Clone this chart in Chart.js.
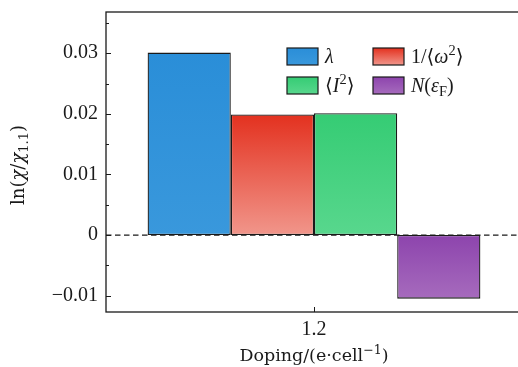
<!DOCTYPE html>
<html>
<head>
<meta charset="utf-8">
<script src="https://cdn.jsdelivr.net/npm/chart.js@4.4.1/dist/chart.umd.min.js"></script>
<style>
  html, body { margin: 0; padding: 0; background: #fff; overflow: hidden; }
  #wrap { width: 518px; height: 367px; overflow: hidden; }
</style>
</head>
<body>
<div id="wrap"><canvas id="chart" width="530" height="367"></canvas></div>
<script>
// values at doping 1.2 e/cell
const categories = ["1.2"];
const lambdaVals = [0.0301];
const invOmegaVals = [0.0199];
const iSquareVals = [0.0201];
const dosVals = [-0.0105];
const yTicks = [-0.01, 0, 0.01, 0.02, 0.03];

const SERIF = "'Liberation Serif', 'DejaVu Serif', serif";
const TITLE_SERIF = "'DejaVu Serif', 'Liberation Serif', serif";
const INK = "#1a1a1a";

// top / bottom colours of each bar's vertical gradient
const fills = [
  ["#2a8ed8", "#3998dc"],
  ["#e3311f", "#f1968b"],
  ["#35cc74", "#58d78d"],
  ["#8d44ad", "#a66bbd"]
];

// legend labels as rich-text runs (i = italic, sup/sub = raised/lowered)
const legendLabels = [
  [{ t: "λ", i: true }],
  [{ t: "1/⟨" }, { t: "ω", i: true }, { t: "2", sup: true }, { t: "⟩" }],
  [{ t: "⟨" }, { t: "I", i: true }, { t: "2", sup: true }, { t: "⟩" }],
  [{ t: "N", i: true }, { t: "(" }, { t: "ε", i: true }, { t: "F", sub: true }, { t: ")" }]
];
const yTitle = [{ t: "ln(" }, { t: "χ", i: true }, { t: "/" }, { t: "χ", i: true }, { t: "1.1", sub: true }, { t: ")" }];
const xTitle = [{ t: "Doping/(e·cell" }, { t: "−1", sup: true }, { t: ")" }];

function barGradient(ctx, y0, y1, pair) {
  const g = ctx.createLinearGradient(0, y0, 0, y1);
  g.addColorStop(0, pair[0]);
  g.addColorStop(1, pair[1]);
  return g;
}

function fillFor(idx) {
  return (context) => {
    const chart = context.chart;
    const y = chart.scales.y;
    if (!chart.chartArea || !y) return fills[idx][0];
    const v = context.raw;
    const top = y.getPixelForValue(Math.max(v, 0));
    const bot = y.getPixelForValue(Math.min(v, 0));
    return barGradient(chart.ctx, top, bot, fills[idx]);
  };
}

// draws a run of text pieces starting at x on baseline y, returns width
function richText(ctx, runs, x, y, size, family, measureOnly) {
  let cx = x;
  for (const r of runs) {
    const small = r.sup || r.sub;
    const fs = small ? size * 0.72 : size;
    ctx.font = (r.i ? "italic " : "") + fs + "px " + family;
    const dy = r.sup ? -size * 0.38 : r.sub ? size * 0.2 : 0;
    if (!measureOnly) ctx.fillText(r.t, cx, y + dy);
    cx += ctx.measureText(r.t).width;
  }
  return cx - x;
}

const decorations = {
  id: "decorations",
  beforeDatasetsDraw(chart) {
    const { ctx, chartArea: a, scales: { y } } = chart;
    const y0 = y.getPixelForValue(0);
    ctx.save();
    ctx.strokeStyle = INK;
    ctx.lineWidth = 1.2;
    ctx.setLineDash([5.5, 3.5]);
    ctx.beginPath();
    ctx.moveTo(a.left, y0);
    ctx.lineTo(a.right, y0);
    ctx.stroke();
    ctx.restore();
  },
  afterDraw(chart) {
    const { ctx, chartArea: a, scales: { x, y } } = chart;
    ctx.save();
    ctx.strokeStyle = INK;
    ctx.fillStyle = INK;
    ctx.lineWidth = 1.3;
    ctx.strokeRect(a.left, a.top, a.right - a.left, a.bottom - a.top);

    // inward ticks on the left axis, minor every half step
    ctx.lineWidth = 1;
    for (let k = -2; k <= 7; k++) {
      const v = k * 0.005;
      const py = Math.round(y.getPixelForValue(v)) + 0.5;
      if (py < a.top || py > a.bottom) continue;
      const len = k % 2 === 0 ? 5 : 3;
      ctx.beginPath();
      ctx.moveTo(a.left, py);
      ctx.lineTo(a.left + len, py);
      ctx.stroke();
    }
    const px = Math.round(x.getPixelForValue(0)) + 0.5;
    ctx.beginPath();
    ctx.moveTo(px, a.bottom);
    ctx.lineTo(px, a.bottom - 5);
    ctx.stroke();

    // legend, two columns inside the plot
    const cols = [287, 373];
    const rows = [48, 77];
    legendLabels.forEach((runs, i) => {
      const bx = cols[i % 2];
      const by = rows[Math.floor(i / 2)];
      ctx.fillStyle = barGradient(ctx, by, by + 17, fills[i]);
      ctx.fillRect(bx, by, 31, 17);
      ctx.lineWidth = 1.2;
      ctx.strokeStyle = INK;
      ctx.strokeRect(bx, by, 31, 17);
      ctx.fillStyle = INK;
      ctx.textBaseline = "alphabetic";
      ctx.textAlign = "left";
      richText(ctx, runs, bx + 38, by + 15, 20, SERIF);
    });

    // axis titles
    ctx.textBaseline = "alphabetic";
    ctx.textAlign = "left";
    const wx = richText(ctx, xTitle, 0, 0, 17.5, TITLE_SERIF, true);
    richText(ctx, xTitle, 314 - wx / 2, 361, 17.5, TITLE_SERIF);

    ctx.translate(24, 165);
    ctx.rotate(-Math.PI / 2);
    const wy = richText(ctx, yTitle, 0, 0, 18, TITLE_SERIF, true);
    richText(ctx, yTitle, -wy / 2, 0, 18, TITLE_SERIF);
    ctx.restore();
  }
};

const datasets = [lambdaVals, invOmegaVals, iSquareVals, dosVals].map((vals, i) => ({
  data: vals,
  backgroundColor: fillFor(i),
  borderColor: INK,
  borderWidth: 1.3,
  borderSkipped: false
}));

new Chart(document.getElementById("chart"), {
  type: "bar",
  data: { labels: categories, datasets: datasets },
  options: {
    responsive: false,
    animation: false,
    layout: { padding: { top: 12, right: 8, left: 0, bottom: 0 } },
    datasets: { bar: { categoryPercentage: 0.8, barPercentage: 1.0 } },
    plugins: { legend: { display: false }, tooltip: { enabled: false } },
    scales: {
      x: {
        grid: { display: false, drawTicks: false },
        border: { display: false },
        ticks: { color: INK, font: { family: SERIF, size: 20 }, padding: 6 },
        afterFit: (s) => { s.height = 55; s.paddingLeft = 0; s.paddingRight = 0; }
      },
      y: {
        min: -0.0127,
        max: 0.0368,
        grid: { display: false, drawTicks: false },
        border: { display: false },
        afterBuildTicks: (s) => { s.ticks = yTicks.map((v) => ({ value: v })); },
        ticks: {
          color: INK,
          padding: 8,
          font: { family: SERIF, size: 20 },
          callback: (v) => Math.abs(v) < 1e-9 ? "0" : (v < 0 ? "−" : "") + Math.abs(v).toFixed(2)
        },
        afterFit: (s) => { s.width = 106; s.paddingTop = 0; s.paddingBottom = 0; }
      }
    }
  },
  plugins: [decorations]
});
</script>
</body>
</html>
